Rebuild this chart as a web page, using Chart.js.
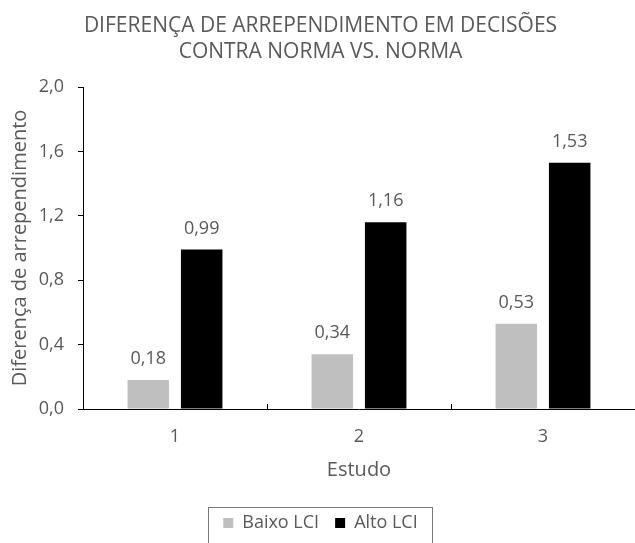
<!DOCTYPE html>
<html>
<head>
<meta charset="utf-8">
<script src="https://cdn.jsdelivr.net/npm/chart.js@4/dist/chart.umd.min.js"></script>
<style>
  html, body { margin: 0; padding: 0; background: #ffffff; overflow: hidden; }
  #wrap { width: 635px; height: 543px; }
</style>
</head>
<body>
<div id="wrap"><canvas id="c" width="635" height="543"></canvas></div>
<script>
// Study categories and the two LCI groups
const estudos = ['1', '2', '3'];
const baixoLCI = [0.18, 0.34, 0.53];
const altoLCI = [0.99, 1.16, 1.53];
const seriesNames = ['Baixo LCI', 'Alto LCI'];

const titleLines = ['DIFERENÇA DE ARREPENDIMENTO EM DECISÕES', 'CONTRA NORMA VS. NORMA'];
const yAxisTitle = 'Diferença de arrependimento';
const xAxisTitle = 'Estudo';
const yMin = 0, yMax = 2.0, yStep = 0.4;

const textGray = '#595959';
const fontFamily = "'Open Sans', 'Noto Sans', sans-serif";

const commaDecimal = (v, d) => Number(v).toFixed(d).replace('.', ',');

// Light-gray fill with a faint stipple
function stippleFill() {
  const tile = document.createElement('canvas');
  tile.width = 4; tile.height = 4;
  const g = tile.getContext('2d');
  g.fillStyle = '#bebebe';
  g.fillRect(0, 0, 4, 4);
  g.fillStyle = '#c9c9c9';
  g.fillRect(0, 0, 1, 1);
  g.fillRect(2, 2, 1, 1);
  return g.createPattern(tile, 'repeat');
}

// Value labels above each bar
const valueLabels = {
  id: 'valueLabels',
  afterDatasetsDraw(chart) {
    const ctx = chart.ctx;
    ctx.save();
    ctx.font = '18px ' + fontFamily;
    ctx.fillStyle = textGray;
    ctx.textAlign = 'center';
    ctx.textBaseline = 'middle';
    chart.data.datasets.forEach((ds, di) => {
      chart.getDatasetMeta(di).data.forEach((bar, i) => {
        ctx.fillText(commaDecimal(ds.data[i], 2), bar.x, bar.y - 21);
      });
    });
    ctx.restore();
  }
};

// Short inward tick marks on the x axis at the category boundaries
const categoryDividers = {
  id: 'categoryDividers',
  afterDraw(chart) {
    const xs = chart.scales.x;
    const step = xs.getPixelForValue(1) - xs.getPixelForValue(0);
    const ctx = chart.ctx;
    ctx.save();
    ctx.strokeStyle = '#000000';
    ctx.lineWidth = 1;
    for (let i = 1; i <= estudos.length; i++) {
      const px = Math.round(xs.getPixelForValue(i - 1) + step / 2) + 0.5;
      ctx.beginPath();
      ctx.moveTo(px, xs.top);
      ctx.lineTo(px, xs.top - 5);
      ctx.stroke();
    }
    ctx.restore();
  }
};

// Frame drawn around the legend entries
const legendFrame = {
  id: 'legendFrame',
  afterDraw(chart) {
    const boxes = chart.legend && chart.legend.legendHitBoxes;
    if (!boxes || !boxes.length) return;
    const first = boxes[0], last = boxes[boxes.length - 1];
    const left = Math.round(first.left - 15) + 0.5;
    const right = Math.round(last.left + last.width + 14) + 0.5;
    const top = Math.round(first.top + first.height / 2 - 16) + 0.5;
    const ctx = chart.ctx;
    ctx.save();
    ctx.strokeStyle = '#7a7a7a';
    ctx.lineWidth = 1;
    ctx.strokeRect(left, top, right - left, chart.height + 10 - top);
    ctx.restore();
  }
};

new Chart(document.getElementById('c'), {
  type: 'bar',
  data: {
    labels: estudos,
    datasets: [
      { label: seriesNames[0], data: baixoLCI, backgroundColor: stippleFill(), borderWidth: 0 },
      { label: seriesNames[1], data: altoLCI, backgroundColor: '#000000', borderWidth: 0 }
    ]
  },
  options: {
    responsive: false,
    animation: false,
    devicePixelRatio: 1,
    layout: { padding: { left: 0, right: -6, top: 0, bottom: 1 } },
    datasets: { bar: { categoryPercentage: 0.58, barPercentage: 0.778 } },
    scales: {
      x: {
        grid: { drawOnChartArea: false, drawTicks: false },
        border: { display: true, color: '#000000', width: 1 },
        ticks: { color: textGray, font: { size: 18, family: fontFamily }, padding: 17 },
        title: { display: true, text: xAxisTitle, color: textGray,
                 font: { size: 20, family: fontFamily }, padding: { top: 8, bottom: 0 } },
        afterFit(scale) { scale.height = 73; }
      },
      y: {
        min: yMin, max: yMax,
        grid: { drawOnChartArea: false, drawTicks: true, tickLength: 5, color: '#000000' },
        border: { display: true, color: '#000000', width: 1 },
        ticks: { stepSize: yStep, color: textGray, font: { size: 18, family: fontFamily }, padding: 14,
                 callback: (v) => commaDecimal(v, 1) },
        title: { display: true, text: yAxisTitle, color: textGray,
                 font: { size: 20, family: fontFamily }, padding: { top: 8, bottom: 0 } },
        afterFit(scale) { scale.width = 83; }
      }
    },
    plugins: {
      title: {
        display: true, text: titleLines, color: textGray,
        font: { size: 21, family: fontFamily, weight: 'normal', lineHeight: 1.25 },
        padding: { top: 13, bottom: 21.5 }
      },
      legend: {
        position: 'bottom',
        title: { display: true, text: ' ', font: { size: 16, lineHeight: 1 }, padding: 0 },
        labels: { boxWidth: 10, boxHeight: 10, padding: 16, color: textGray,
                  font: { size: 18, family: fontFamily } }
      },
      tooltip: { enabled: false }
    }
  },
  plugins: [valueLabels, categoryDividers, legendFrame]
});
</script>
</body>
</html>
